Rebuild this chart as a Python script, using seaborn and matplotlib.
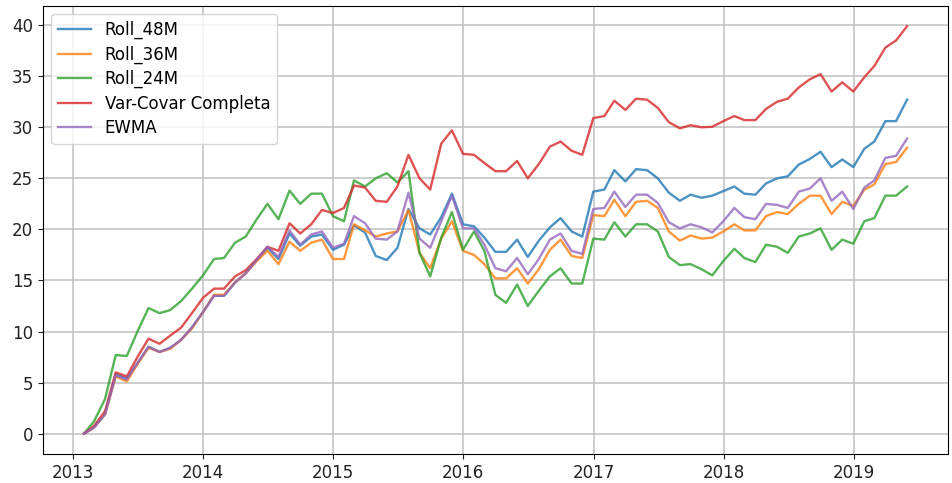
import numpy as np
import pandas as pd
import matplotlib
matplotlib.use("Agg")
import matplotlib.pyplot as plt
import seaborn as sns

# ---- data (monthly, Jan-2013 .. May-2019) ----
start_month = "2013-02-01"
n_months = 77

roll_48m = [0, 0.6, 1.9, 5.8, 5.4, 6.9, 8.5, 8.0, 8.4, 9.2, 10.4, 11.9,
            13.5, 13.5, 14.8, 15.7, 17.0, 18.2, 17.1, 19.6, 18.4, 19.3, 19.5, 18.0, 18.5,
            20.4, 19.7, 17.4, 17.0, 18.2, 22.0, 20.1, 19.5, 21.2, 23.5, 20.5, 20.3,
            19.2, 17.8, 17.8, 19.0, 17.3, 18.9, 20.2, 21.1, 19.8, 19.3, 23.7, 23.9,
            25.8, 24.7, 25.9, 25.8, 25.0, 23.6, 22.8, 23.4, 23.1, 23.3, 23.75, 24.2,
            23.5, 23.4, 24.5, 25.0, 25.2, 26.35, 26.9, 27.6, 26.1, 26.85, 26.1,
            27.9, 28.6, 30.6, 30.6, 32.7]

roll_36m = [0, 0.6, 1.9, 5.6, 5.1, 6.8, 8.4, 8.0, 8.3, 9.2, 10.3, 11.9,
            13.6, 13.6, 14.8, 15.7, 16.9, 17.9, 16.6, 18.8, 17.9, 18.7, 19.0, 17.1, 17.1,
            20.5, 19.9, 19.3, 19.6, 19.8, 21.9, 17.7, 16.2, 19.1, 20.8, 17.9, 17.5,
            16.6, 15.2, 15.2, 16.2, 14.7, 16.1, 18.0, 19.0, 17.4, 17.2, 21.4, 21.3,
            22.9, 21.3, 22.7, 22.8, 22.1, 19.8, 18.9, 19.4, 19.1, 19.2, 19.8, 20.5,
            19.9, 19.9, 21.3, 21.7, 21.5, 22.5, 23.3, 23.3, 21.5, 22.7, 22.3,
            23.9, 24.4, 26.4, 26.6, 28.0]

roll_24m = [0, 1.2, 3.4, 7.7, 7.6, 10.0, 12.3, 11.8, 12.1, 13.0, 14.2, 15.5,
            17.1, 17.2, 18.7, 19.3, 21.0, 22.5, 21.0, 23.8, 22.5, 23.5, 23.5, 21.3, 20.8,
            24.8, 24.2, 25.0, 25.5, 24.6, 25.7, 17.7, 15.4, 19.2, 21.7, 18.0, 19.8,
            17.9, 13.6, 12.8, 14.6, 12.5, 14.0, 15.4, 16.2, 14.7, 14.7, 19.1, 19.0,
            20.7, 19.3, 20.5, 20.5, 19.8, 17.3, 16.5, 16.6, 16.1, 15.5, 16.9, 18.1,
            17.2, 16.8, 18.5, 18.3, 17.7, 19.3, 19.6, 20.1, 18.0, 19.0, 18.6,
            20.8, 21.1, 23.3, 23.3, 24.2]

var_covar = [0, 0.75, 2.2, 6.0, 5.6, 7.5, 9.3, 8.8, 9.6, 10.4, 11.8, 13.3,
             14.2, 14.2, 15.4, 16.0, 17.1, 18.3, 17.9, 20.6, 19.6, 20.5, 21.9, 21.6, 22.1,
             24.3, 24.1, 22.8, 22.7, 24.2, 27.3, 25.0, 23.9, 28.4, 29.7, 27.4, 27.3,
             26.5, 25.7, 25.7, 26.7, 25.0, 26.4, 28.1, 28.6, 27.7, 27.3, 30.9, 31.1,
             32.6, 31.7, 32.8, 32.7, 31.9, 30.5, 29.9, 30.2, 30.0, 30.05, 30.6, 31.1,
             30.7, 30.7, 31.8, 32.5, 32.8, 33.9, 34.7, 35.2, 33.5, 34.4, 33.5,
             34.9, 36.0, 37.8, 38.5, 39.9]

ewma = [0, 0.6, 1.9, 5.7, 5.3, 6.9, 8.5, 8.0, 8.4, 9.2, 10.4, 11.9,
        13.5, 13.5, 14.8, 15.7, 17.0, 18.3, 17.3, 19.9, 18.5, 19.5, 19.8, 18.2, 18.6,
        21.3, 20.6, 19.1, 19.0, 19.8, 23.6, 19.1, 18.2, 20.8, 23.3, 20.1, 20.1,
        18.5, 16.2, 15.9, 17.2, 15.6, 17.1, 19.0, 19.6, 17.9, 17.6, 22.0, 22.1,
        23.7, 22.2, 23.4, 23.4, 22.6, 20.7, 20.1, 20.5, 20.2, 19.7, 20.8, 22.1,
        21.2, 21.0, 22.5, 22.4, 22.1, 23.7, 24.0, 25.0, 22.8, 23.7, 22.0,
        24.1, 24.8, 27.0, 27.2, 28.9]

series_names = ["Roll_48M", "Roll_36M", "Roll_24M", "Var-Covar Completa", "EWMA"]
series_values = [roll_48m, roll_36m, roll_24m, var_covar, ewma]

dates = pd.date_range(start_month, periods=n_months, freq="MS") - pd.Timedelta(days=1)

plt.rcParams["font.family"] = ["DejaVu Sans"]
plt.rcParams["font.size"] = 12

fig, ax = plt.subplots(figsize=(9.53, 4.83), dpi=100)
fig.subplots_adjust(left=0.045, right=0.995, top=0.988, bottom=0.06)

palette = sns.color_palette("tab10", 5)
for name, vals, col in zip(series_names, series_values, palette):
    sns.lineplot(x=dates, y=vals, label=name, color=col, linewidth=1.7,
                 alpha=0.8, ax=ax)

ax.grid(True, color="#c0c0c0", linewidth=1.1)
ax.set_axisbelow(True)
ax.set_xlabel("")
ax.set_ylabel("")
ax.set_yticks(np.arange(0, 41, 5))
ax.tick_params(labelsize=12, colors="#222222", labelcolor="#222222")
ax.legend(loc="upper left", fontsize=12, labelspacing=0.38)

fig.savefig("out.png", dpi=100)
